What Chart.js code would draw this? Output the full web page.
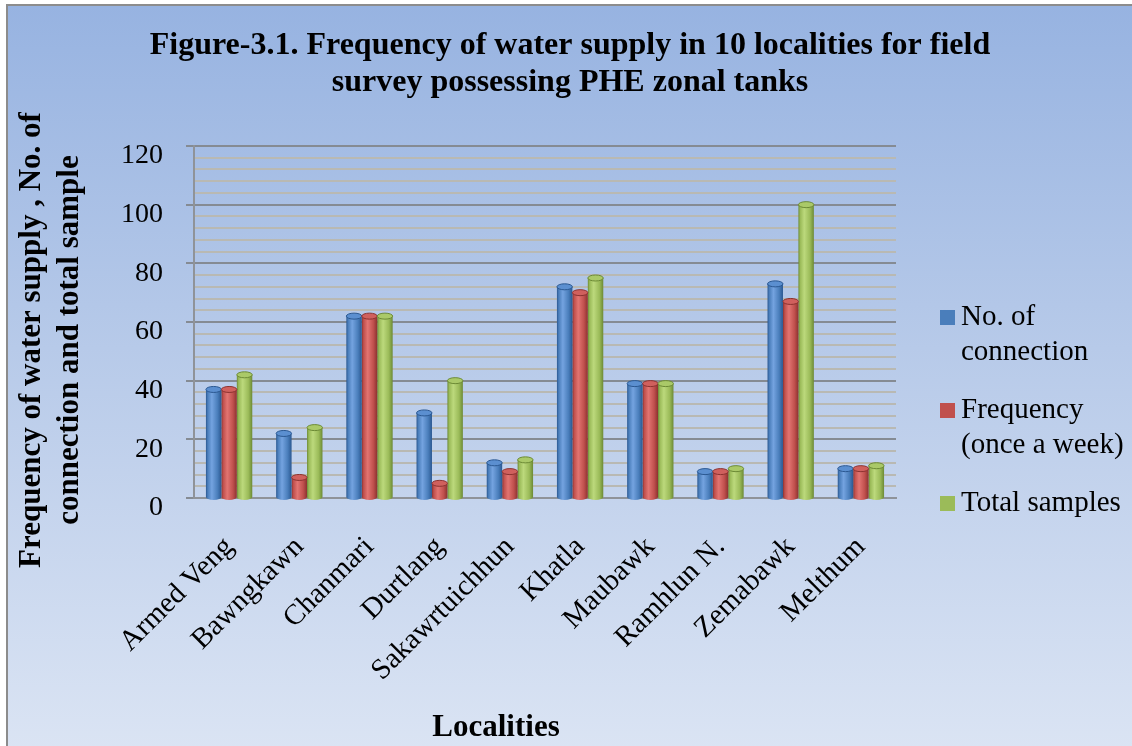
<!DOCTYPE html>
<html>
<head>
<meta charset="utf-8">
<script src="https://cdn.jsdelivr.net/npm/chart.js@4.4.1/dist/chart.umd.min.js"></script>
<style>
  html, body { margin: 0; padding: 0; background: #ffffff; overflow: hidden; }
  #frame {
    position: absolute; left: 6px; top: 4px; width: 1140px; height: 760px;
    border-top: 2px solid #8c8c8c; border-left: 2px solid #8c8c8c;
    background: linear-gradient(to bottom, #97b3e1 0%, #b7cae9 45%, #dce5f4 100%);
  }
  #wrap { position: absolute; left: 0; top: 0; width: 1124px; height: 740px; }
</style>
</head>
<body>
<div id="frame"><div id="wrap"><canvas id="c" width="1124" height="740"></canvas></div></div>
<script>
// ---- data ----
const categories = ['Armed Veng', 'Bawngkawn', 'Chanmari', 'Durtlang', 'Sakawrtuichhun',
                    'Khatla', 'Maubawk', 'Ramhlun N.', 'Zemabawk', 'Melthum'];
const connections = [37, 22, 62, 29, 12, 72, 39, 9, 73, 10];
const frequency   = [37, 7, 62, 5, 9, 70, 39, 9, 67, 10];
const samples     = [42, 24, 62, 40, 13, 75, 39, 10, 100, 11];
const seriesNames = [['No. of', 'connection'], ['Frequency', '(once a week)'], ['Total samples']];
const titleLines  = ['Figure-3.1. Frequency of water supply in 10 localities for field',
                     'survey possessing PHE zonal tanks'];
const yTitleLines = ['Frequency of water supply , No. of', 'connection and total sample'];
const xTitle = 'Localities';
const yMin = 0, yMax = 120, yStep = 4, yLabelEvery = 20;

// ---- style ----
const serif = '"Liberation Serif", "Times New Roman", serif';
const palette = [
  { base: '#4a7ebb', light: '#74a3e0', dark: '#2b5891', top: '#5b8fd0' },
  { base: '#c0504d', light: '#e27471', dark: '#8c3230', top: '#d0605d' },
  { base: '#9bbb59', light: '#bcd97c', dark: '#6c8a35', top: '#aac968' }
];
const CAT_PCT = 0.66, BAR_PCT = 1.0;

function barGradient(c, pi) {
  const chart = c.chart;
  const xs = chart.scales && chart.scales.x;
  if (!chart.chartArea || !xs || c.dataIndex === undefined) return palette[pi].base;
  const n = categories.length;
  const catW = (xs.right - xs.left) / n;
  const groupW = catW * CAT_PCT;
  const slot = groupW / 3;
  const center = xs.getPixelForValue(c.dataIndex);
  const l = center - groupW / 2 + c.datasetIndex * slot + slot * (1 - BAR_PCT) / 2;
  const r = l + slot * BAR_PCT;
  const g = chart.ctx.createLinearGradient(l, 0, r, 0);
  g.addColorStop(0, palette[pi].dark);
  g.addColorStop(0.12, palette[pi].base);
  g.addColorStop(0.38, palette[pi].light);
  g.addColorStop(0.75, palette[pi].base);
  g.addColorStop(1, palette[pi].dark);
  return g;
}

// cylinder caps
const cylinderCaps = {
  id: 'cylinderCaps',
  afterDatasetsDraw(chart) {
    const ctx = chart.ctx;
    chart.data.datasets.forEach((ds, di) => {
      const meta = chart.getDatasetMeta(di);
      meta.data.forEach((el) => {
        const rx = el.width / 2, ry = 3;
        ctx.save();
        ctx.beginPath();
        ctx.ellipse(el.x, el.base, rx, ry, 0, 0, Math.PI);
        ctx.fillStyle = el.options.backgroundColor;
        ctx.fill();
        ctx.beginPath();
        ctx.ellipse(el.x, el.y, rx, ry, 0, 0, Math.PI * 2);
        ctx.fillStyle = palette[di].top;
        ctx.fill();
        ctx.lineWidth = 1;
        ctx.strokeStyle = palette[di].dark;
        ctx.stroke();
        ctx.restore();
      });
    });
  }
};

// titles + legend
const textDecor = {
  id: 'textDecor',
  afterDraw(chart) {
    const ctx = chart.ctx;
    ctx.save();
    ctx.fillStyle = '#000';
    ctx.font = 'bold 32px ' + serif;
    ctx.textAlign = 'center';
    ctx.textBaseline = 'middle';
    titleLines.forEach((t, i) => ctx.fillText(t, 562, 40 + i * 37));
    ctx.save();
    ctx.translate(24, 334);
    ctx.rotate(-Math.PI / 2);
    ctx.font = 'bold 31px ' + serif;
    yTitleLines.forEach((t, i) => ctx.fillText(t, 0, i * 38));
    ctx.restore();
    ctx.font = 'bold 31px ' + serif;
    ctx.fillText(xTitle, 488, 722);
    ctx.font = '29px ' + serif;
    ctx.textAlign = 'left';
    let y = 311;
    chart.data.datasets.forEach((ds, di) => {
      ctx.fillStyle = palette[di].base;
      ctx.fillRect(932, y - 7, 15, 15);
      ctx.fillStyle = '#000';
      ds.label.forEach((line, li) => {
        ctx.fillText(line, 953, y + li * 35);
      });
      y += ds.label.length * 35 + 23;
    });
    ctx.restore();
  }
};

const datasets = [connections, frequency, samples].map((vals, i) => ({
  label: seriesNames[i],
  data: vals,
  backgroundColor: (c) => barGradient(c, i),
  borderWidth: 0,
  categoryPercentage: CAT_PCT,
  barPercentage: BAR_PCT
}));

new Chart(document.getElementById('c'), {
  type: 'bar',
  data: { labels: categories, datasets },
  options: {
    responsive: false,
    animation: false,
    layout: { padding: { left: 0, right: 236, top: 140, bottom: 0 } },
    plugins: { legend: { display: false }, title: { display: false }, tooltip: { enabled: false } },
    scales: {
      x: {
        grid: { display: false },
        border: { display: true, color: '#8f9399', width: 2 },
        ticks: {
          color: '#000', font: { family: serif, size: 29 },
          minRotation: 45, maxRotation: 45, autoSkip: false, padding: 24
        },
        afterFit(s) { s.height = 248; }
      },
      y: {
        min: yMin, max: yMax,
        border: { display: true, color: '#8f9399', width: 2 },
        grid: {
          color: (c) => (c.tick && c.tick.value % yLabelEvery === 0) ? '#858b93' : '#b9b9b3',
          lineWidth: 2,
          tickLength: 8,
          tickColor: (c) => (c.tick && c.tick.value % yLabelEvery === 0) ? '#858b93' : 'rgba(0,0,0,0)'
        },
        ticks: {
          stepSize: yStep, autoSkip: false, color: '#000', padding: 23, labelOffset: 10,
          font: { family: serif, size: 28 },
          callback: (v) => (v % yLabelEvery === 0 ? String(v) : '')
        },
        afterFit(s) { s.width = 186; }
      }
    }
  },
  plugins: [cylinderCaps, textDecor]
});
</script>
</body>
</html>
